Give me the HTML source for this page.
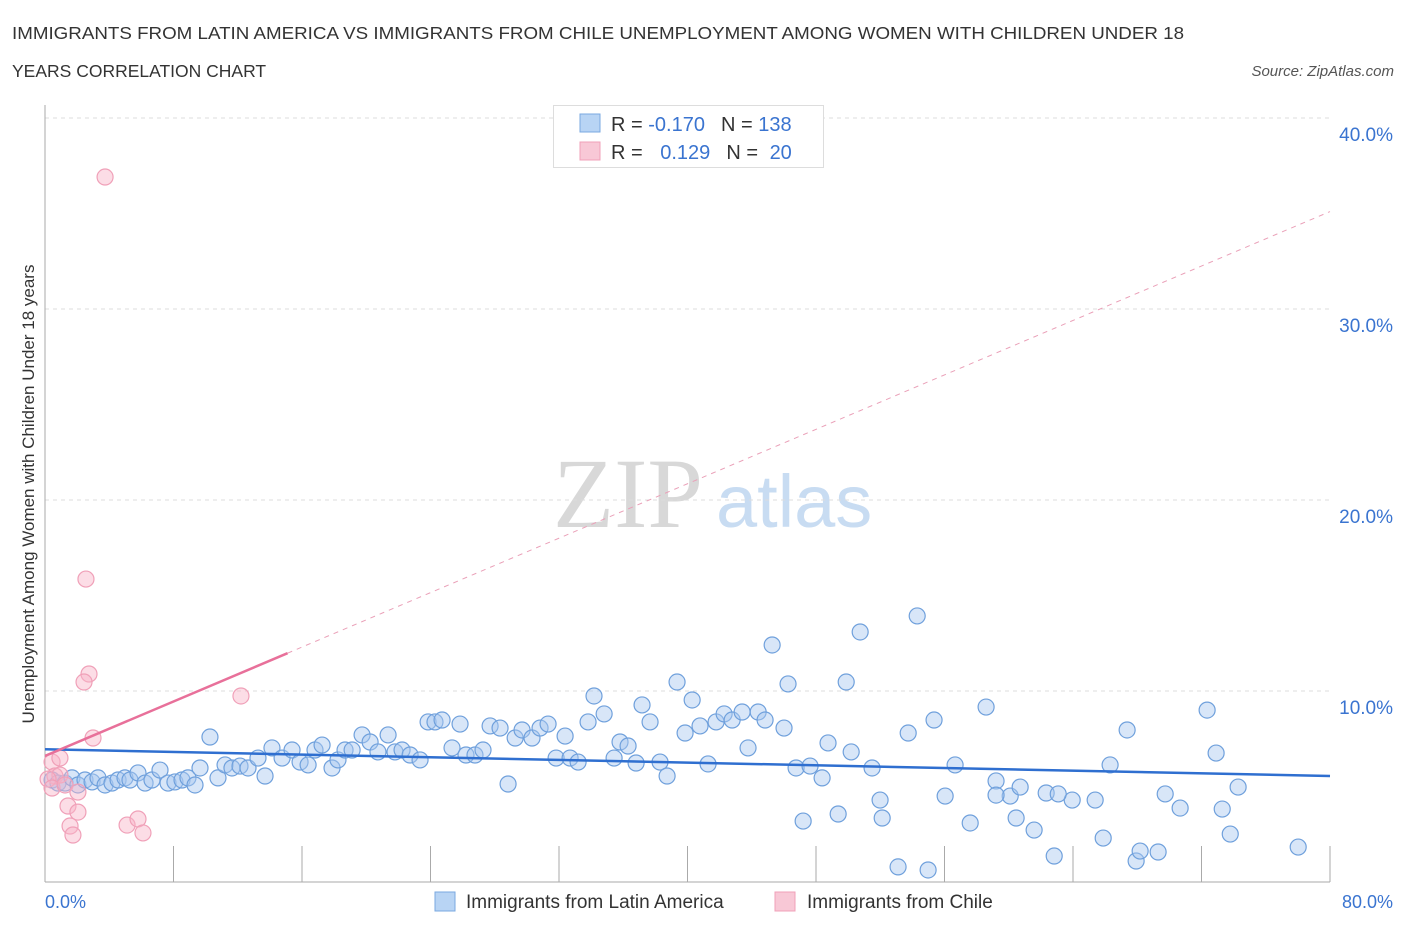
<!DOCTYPE html>
<html><head><meta charset="utf-8"><style>
body{margin:0;background:#fff;font-family:"Liberation Sans",sans-serif;}
</style></head><body>
<svg width="1406" height="930" xmlns="http://www.w3.org/2000/svg" style="display:block">
<text x="12" y="39" font-size="17.5" fill="#333" textLength="1172" lengthAdjust="spacingAndGlyphs">IMMIGRANTS FROM LATIN AMERICA VS IMMIGRANTS FROM CHILE UNEMPLOYMENT AMONG WOMEN WITH CHILDREN UNDER 18</text>
<text x="12" y="77" font-size="17.5" fill="#333">YEARS CORRELATION CHART</text>
<text x="1394" y="76" font-size="15" fill="#555" font-style="italic" text-anchor="end">Source: ZipAtlas.com</text>
<g>
<text x="553" y="527" font-size="100" fill="#d8d8d8" font-family="Liberation Serif,serif">ZIP</text>
<text x="716" y="527" font-size="74" fill="#c8dcf2">atlas</text>
</g>
<g id="grid"></g>
<g id="axes"></g>
<g id="pts"></g>
<g id="trend"></g>
<text transform="translate(34,494) rotate(-90)" font-size="17" fill="#333" text-anchor="middle">Unemployment Among Women with Children Under 18 years</text>
<text x="45" y="908" font-size="18" fill="#3a74d0">0.0%</text>
<text x="1393" y="908" font-size="18" fill="#3a74d0" text-anchor="end">80.0%</text>
<g>
<rect x="553.5" y="105.5" width="270" height="62" fill="#fff" stroke="#ddd"/>
<rect x="580" y="114" width="20" height="18" fill="#b8d4f4" stroke="#7aa8e0"/>
<rect x="580" y="142" width="20" height="18" fill="#f8c8d6" stroke="#f0a0b8"/>
<text x="611" y="131" font-size="20" fill="#333">R = <tspan fill="#3a74d0">-0.170</tspan><tspan dx="16">N = </tspan><tspan fill="#3a74d0">138</tspan></text>
<text x="611" y="159" font-size="20" fill="#333">R = <tspan fill="#3a74d0" dx="12">0.129</tspan><tspan dx="16">N = </tspan><tspan fill="#3a74d0" dx="6">20</tspan></text>
</g>
<g>
<rect x="435" y="892" width="20" height="19" fill="#b8d4f4" stroke="#7aa8e0"/>
<text x="466" y="908" font-size="19" fill="#333">Immigrants from Latin America</text>
<rect x="775" y="892" width="20" height="19" fill="#f8c8d6" stroke="#f0a0b8"/>
<text x="807" y="908" font-size="19" fill="#333">Immigrants from Chile</text>
</g>
</svg>
<script>
const yTicks=[10,20,30,40];
const yTickLabels=["10.0%","20.0%","30.0%","40.0%"];
const blueX=[0.44,0.81,1.25,1.68,2.05,2.49,2.93,3.3,3.74,4.17,4.55,4.98,5.29,5.79,6.23,6.66,7.16,7.66,8.09,8.53,8.9,9.34,9.65,10.27,10.77,11.21,11.64,12.14,12.64,13.26,13.7,14.13,14.76,15.38,15.88,16.38,16.81,17.25,17.87,18.24,18.68,19.12,19.74,20.24,20.73,21.36,21.79,22.23,22.73,23.35,23.85,24.28,24.72,25.84,25.34,26.21,26.77,27.27,27.71,28.33,28.83,29.27,29.7,30.32,30.82,31.32,31.82,32.38,32.69,33.19,33.81,34.18,34.81,35.43,35.8,36.3,36.8,37.17,37.67,38.29,38.73,39.35,39.85,40.29,40.78,41.28,41.78,42.28,42.78,43.4,43.77,44.4,44.83,45.27,46.01,46.26,46.76,47.2,47.63,48.38,48.75,49.38,49.88,50.19,50.75,51.49,51.99,52.12,53.11,53.74,54.3,54.98,55.35,56.04,56.66,57.6,58.59,59.21,60.09,60.46,60.71,61.58,62.33,62.83,63.95,65.38,65.88,66.31,67.37,67.93,68.18,69.3,69.74,70.67,72.35,72.91,73.29,73.79,74.28,78.02,63.08,59.21];
const blueY=[5.34,5.18,5.18,5.45,5.08,5.34,5.24,5.45,5.08,5.18,5.34,5.45,5.34,5.71,5.18,5.34,5.86,5.18,5.24,5.34,5.45,5.08,5.97,7.59,5.45,6.13,5.97,6.07,5.97,6.49,5.55,7.02,6.49,6.91,6.28,6.13,6.91,7.17,5.97,6.39,6.91,6.91,7.7,7.33,6.81,7.7,6.81,6.91,6.65,6.39,8.38,8.38,8.48,8.27,7.02,6.65,6.65,6.91,8.17,8.06,5.13,7.54,7.96,7.54,8.06,8.27,6.49,7.64,6.49,6.28,8.38,9.74,8.8,6.49,7.33,7.12,6.23,9.27,8.38,6.28,5.55,10.47,7.8,9.53,8.17,6.18,8.38,8.8,8.48,8.9,7.02,8.9,8.48,12.41,8.06,10.37,5.97,3.19,6.07,5.45,7.28,3.56,10.47,6.81,13.09,5.97,4.29,3.35,0.79,7.8,13.93,0.63,8.48,4.5,6.13,3.09,9.16,5.29,4.5,3.35,4.97,2.72,4.66,1.36,4.29,4.29,2.3,6.13,7.96,1.1,1.62,1.57,4.61,3.87,9.0,6.75,3.82,2.51,4.97,1.83,4.61,4.55];
const pinkX=[3.74,2.55,2.74,2.43,12.2,2.99,0.44,0.62,0.93,0.19,0.44,1.25,2.05,1.43,2.05,1.56,1.74,5.11,5.79,6.1,0.93];
const pinkY=[36.91,15.86,10.89,10.47,9.74,7.54,6.28,5.55,5.6,5.39,4.92,5.08,4.71,3.98,3.66,2.93,2.46,2.98,3.3,2.57,6.49];
const blueTrend=[6.95,5.55];
const pinkTrend=[6.6,35.1];
const NS="http://www.w3.org/2000/svg";
const X=v=>45+v*1285/80, Y=v=>882-v*19.1;
function mk(tag,attrs,parent){const e=document.createElementNS(NS,tag);for(const k in attrs)e.setAttribute(k,attrs[k]);document.getElementById(parent).appendChild(e);return e;}
yTicks.forEach((t,i)=>{
 const l=mk('line',{x1:45,x2:1330,y1:Y(t),y2:Y(t),stroke:'#ddd','stroke-dasharray':'4,4'},'grid');
 
 
 const tx=mk('text',{x:1393,y:Y(t)+23,'font-size':19,fill:'#3a74d0','text-anchor':'end'},'grid');
 tx.textContent=yTickLabels[i];
 
 
});
const ax=mk('line',{x1:45,x2:1330,y1:882,y2:882,stroke:'#aaa'},'axes');


const ay=mk('line',{x1:45,x2:45,y1:105,y2:882,stroke:'#aaa'},'axes');


for(let k=1;k<=10;k++){
 const t=mk('line',{x1:X(k*8),x2:X(k*8),y1:846,y2:882,stroke:'#aaa'},'axes');
 
 
}
blueX.forEach((x,i)=>{
 const c=mk('circle',{cx:X(x),cy:Y(blueY[i]),r:8,fill:'rgba(168,200,240,0.45)',stroke:'#6fa0dc','stroke-width':1.2},'pts');
 
 
});
pinkX.forEach((x,i)=>{
 const c=mk('circle',{cx:X(x),cy:Y(pinkY[i]),r:8,fill:'rgba(248,180,200,0.45)',stroke:'#f0a0b8','stroke-width':1.2},'pts');
 
 
});
const b=mk('line',{x1:X(0),y1:Y(blueTrend[0]),x2:X(80),y2:Y(blueTrend[1]),stroke:'#2f6fd0','stroke-width':2.5},'trend');


const pe=15.1, py=pinkTrend[0]+(pinkTrend[1]-pinkTrend[0])*pe/80;
const pd=mk('line',{x1:X(pe),y1:Y(py),x2:X(80),y2:Y(pinkTrend[1]),stroke:'#eaa0b8','stroke-width':1,'stroke-dasharray':'5,5'},'trend');


const ps=mk('line',{x1:X(0),y1:Y(pinkTrend[0]),x2:X(pe),y2:Y(py),stroke:'#e8709a','stroke-width':2.5},'trend');


</script>
</body></html>
